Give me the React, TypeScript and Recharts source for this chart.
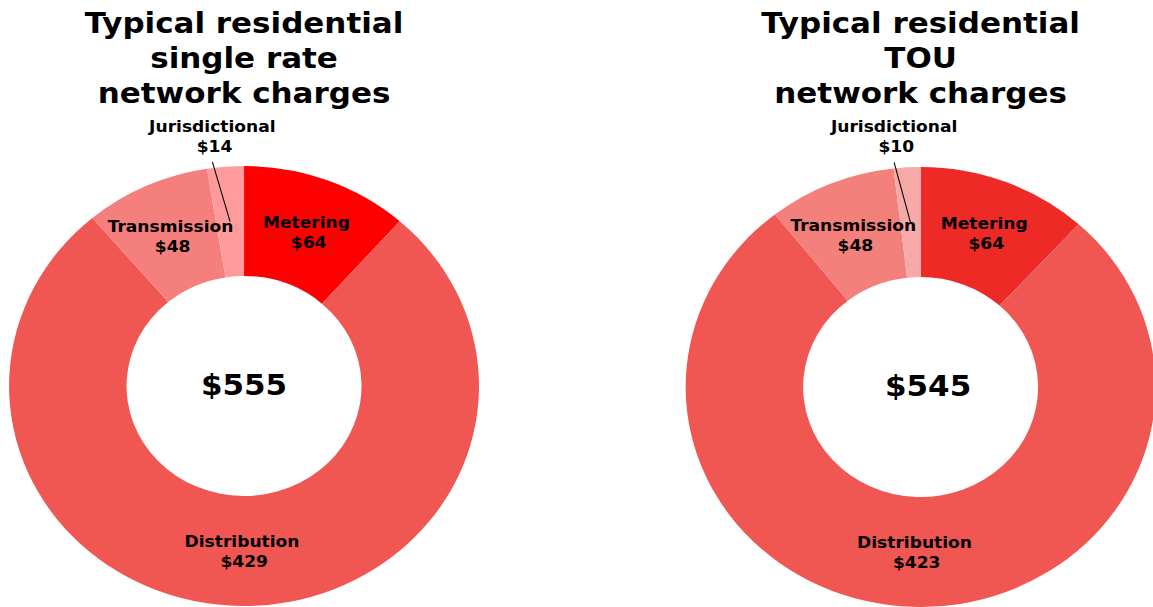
import React from 'react'
import { PieChart, Pie, Cell } from 'recharts'

// categories clockwise from 12 o'clock
const categories = ['Metering', 'Distribution', 'Transmission', 'Jurisdictional']
const singleRateValues = [64, 429, 48, 14]
const touValues = [64, 423, 48, 10]

const singleRateColors = ['#FF0000', '#F05652', '#F47F7D', '#FF9B9B']
const touColors = ['#EE2A26', '#F05652', '#F4807C', '#F7A9A7']

const singleRateTitle = ['Typical residential', 'single rate', 'network charges']
const touTitle = ['Typical residential', 'TOU', 'network charges']

const STRETCH = 1.068
const FONT = '"DejaVu Sans", Verdana, sans-serif'
const RADIAN = Math.PI / 180

const singleRateData = categories.map((name, i) => ({ name, value: singleRateValues[i] }))
const touData = categories.map((name, i) => ({ name, value: touValues[i] }))

const sum = (arr: number[]) => arr.reduce((a, b) => a + b, 0)

const makeLabel = (total: number, totalDx: number) => (props: any) => {
  const { cx, cy, midAngle, innerRadius, outerRadius, name, value, percent, index } = props
  const r = (innerRadius + outerRadius) / 2
  const mx = cx + r * Math.cos(-midAngle * RADIAN)
  const my = cy + r * Math.sin(-midAngle * RADIAN)
  const textStyle = { fontFamily: FONT, fontWeight: 'bold' as const, fontSize: 16 }

  // the donut total sits in the hole, drawn once with the first slice
  const centre =
    index === 0 ? (
      <text
        x={cx + totalDx}
        y={cy + 9}
        textAnchor='middle'
        fill='#000'
        style={{ fontFamily: FONT, fontWeight: 'bold', fontSize: 29 }}
      >
        ${total}
      </text>
    ) : null

  if (percent < 0.03) {
    // small slice: leader line out of the ring
    const a = (midAngle + 3) * RADIAN
    const ex = cx + (outerRadius + 6) * Math.cos(-a)
    const ey = cy + (outerRadius + 6) * Math.sin(-a)
    return (
      <g>
        <line x1={mx} y1={my} x2={ex} y2={ey} stroke='#000' strokeWidth={1} />
        <text x={ex} y={ey - 30} textAnchor='middle' fill='#000' style={textStyle}>
          {name}
        </text>
        <text x={ex + 2} y={ey - 10} textAnchor='middle' fill='#000' style={textStyle}>
          ${value}
        </text>
      </g>
    )
  }

  return (
    <g>
      {centre}
      <text x={mx} y={my - 4} textAnchor='middle' fill='#000' style={textStyle}>
        {name}
      </text>
      <text x={mx + 2} y={my + 16} textAnchor='middle' fill='#000' style={textStyle}>
        ${value}
      </text>
    </g>
  )
}

const Title = ({ lines, x }: { lines: string[]; x: number }) => (
  <div
    style={{
      position: 'absolute',
      left: x - 200,
      top: 6,
      width: 400,
      textAlign: 'center',
      fontFamily: FONT,
      fontWeight: 'bold',
      fontSize: 29,
      lineHeight: '35px',
      color: '#000',
    }}
  >
    {lines.map((l) => (
      <div key={l}>{l}</div>
    ))}
  </div>
)

const App = () => {
  const leftCx = 228.5
  const rightCx = 862
  return (
    <div
      style={{
        position: 'fixed',
        left: 0,
        top: 0,
        width: 1153,
        height: 607,
        overflow: 'hidden',
        background: '#fff',
      }}
    >
      <div
        style={{
          position: 'absolute',
          left: 0,
          top: 0,
          width: 1080,
          height: 607,
          transform: `scaleX(${STRETCH})`,
          transformOrigin: '0 0',
        }}
      >
        <PieChart width={1080} height={607} margin={{ top: 0, right: 0, bottom: 0, left: 0 }}>
          <Pie
            data={singleRateData}
            dataKey='value'
            nameKey='name'
            cx={leftCx}
            cy={386}
            innerRadius={110}
            outerRadius={220}
            startAngle={90}
            endAngle={-270}
            stroke='none'
            label={makeLabel(sum(singleRateValues), 0)}
            labelLine={false}
            isAnimationActive={false}
          >
            {singleRateData.map((d, i) => (
              <Cell key={d.name} fill={singleRateColors[i]} />
            ))}
          </Pie>
          <Pie
            data={touData}
            dataKey='value'
            nameKey='name'
            cx={rightCx}
            cy={387}
            innerRadius={110}
            outerRadius={220}
            startAngle={90}
            endAngle={-270}
            stroke='none'
            label={makeLabel(sum(touValues), 7)}
            labelLine={false}
            isAnimationActive={false}
          >
            {touData.map((d, i) => (
              <Cell key={d.name} fill={touColors[i]} />
            ))}
          </Pie>
        </PieChart>
        <Title lines={singleRateTitle} x={leftCx} />
        <Title lines={touTitle} x={rightCx} />
      </div>
    </div>
  )
}

export default App
